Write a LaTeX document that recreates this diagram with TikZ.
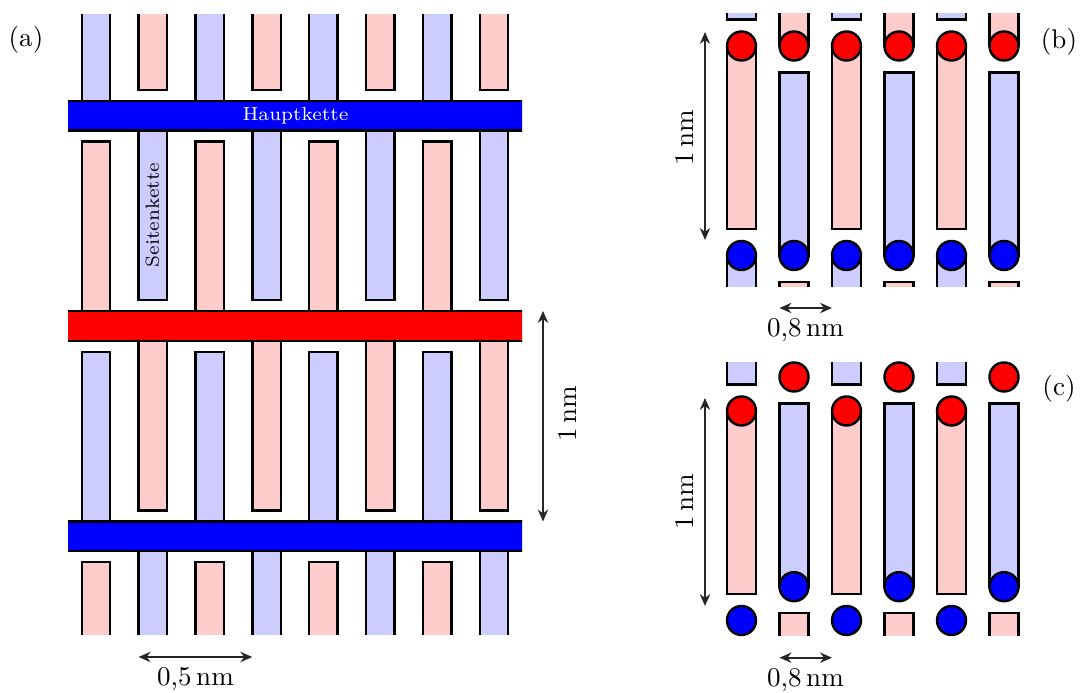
\documentclass[tikz,border=0pt]{standalone}
\usetikzlibrary{arrows.meta}
\definecolor{lblue}{RGB}{204,204,255}
\definecolor{lred}{RGB}{255,204,204}
\definecolor{arr}{RGB}{38,38,38}
\begin{document}
\begin{tikzpicture}[x=0.013cm,y=-0.013cm,
  outl/.style={draw=black,line width=0.9pt},
  dim/.style={draw=arr,line width=0.75pt,{Stealth[length=4.4pt,width=3.8pt]}-{Stealth[length=4.4pt,width=3.8pt]}},
  lab/.style={inner sep=0pt},
]
\useasboundingbox (0,0) rectangle (1080,693);

% ---------------- panel (a)
\begin{scope}
\clip (68,14.5) rectangle (522,635);
\foreach \i in {0,1,2,3}{
  \foreach \k in {0,...,7}{
    \pgfmathsetmacro{\B}{101+210.25*(\i-1)+29.5}
    \pgfmathsetmacro{\T}{101+210.25*\i}
    \pgfmathsetmacro{\cx}{96+56.86*\k}
    \pgfmathtruncatemacro{\p}{mod(\i+\k,2)}
    \pgfmathtruncatemacro{\ke}{mod(\k,2)}
    \ifnum\p=0 \def\col{lblue}\else\def\col{lred}\fi
    \ifnum\ke=0
      \pgfmathsetmacro{\ya}{\B+11}\pgfmathsetmacro{\yb}{\T}
    \else
      \pgfmathsetmacro{\ya}{\B}\pgfmathsetmacro{\yb}{\T-11}
    \fi
    \filldraw[outl,fill=\col] (\cx-14.25,\ya) rectangle (\cx+14.25,\yb);
  }
}
\foreach \j/\c in {1/blue,2/red,3/blue}{
  \pgfmathsetmacro{\T}{101+210.25*(\j-1)}
  \filldraw[outl,fill=\c] (40,\T) rectangle (560,\T+29.5);
}
\node[lab,text=white,font=\scriptsize] (haupt) at (295.5,116) {Hauptkette};
\node[lab,rotate=90,font=\scriptsize] (seite) at (152.5,215) {Seitenkette};
\end{scope}

\node[lab] (la) at (26,40) {(a)};
\coordinate (a1) at (543,311);
\coordinate (a2) at (543,521.5);
\draw[dim] (a1) -- (a2);
\node[lab,rotate=90] (a1nm) at (567,414) {1\,nm};
\coordinate (a3) at (138.6,657);
\coordinate (a4) at (252.3,657);
\draw[dim] (a3) -- (a4);
\node[lab] (a05) at (195.5,679) {0,5\,nm};

% ---------------- panel (b)
\begin{scope}
\clip (700,14) rectangle (1030,287);
\foreach \k in {0,...,5}{
  \pgfmathsetmacro{\cx}{741.5+52.5*\k}
  \pgfmathtruncatemacro{\ke}{mod(\k,2)}
  \foreach \j in {-1,0,1,2}{
    \pgfmathsetmacro{\cy}{46+209.5*\j}
    \pgfmathtruncatemacro{\pj}{mod(\j+2,2)}
    \ifnum\pj=0 \def\cl{lred}\def\cd{red}\else\def\cl{lblue}\def\cd{blue}\fi
    \ifnum\ke=0
      \filldraw[outl,fill=\cl] (\cx-14.5,\cy) rectangle (\cx+14.5,\cy+183);
    \else
      \filldraw[outl,fill=\cl] (\cx-14.5,\cy-183) rectangle (\cx+14.5,\cy);
    \fi
    \filldraw[outl,fill=\cd] (\cx,\cy) circle[radius=14.5];
  }
}
\end{scope}
\node[lab] (lb) at (1059,42) {(b)};
\coordinate (b1) at (705,32);
\coordinate (b2) at (705,240);
\draw[dim] (b1) -- (b2);
\node[lab,rotate=90] (b1nm) at (684,138) {1\,nm};
\coordinate (b3) at (779.5,308);
\coordinate (b4) at (832,308);
\draw[dim] (b3) -- (b4);
\node[lab] (b08) at (805.5,330) {0,8\,nm};

% ---------------- panel (c)
\begin{scope}
\clip (700,363) rectangle (1030,635.5);
\foreach \k in {0,2,4}{
  \pgfmathsetmacro{\cx}{741.5+52.5*\k}
  \filldraw[outl,fill=lblue] (\cx-14.5,201.5) rectangle (\cx+14.5,384.5);
  \filldraw[outl,fill=lred] (\cx-14.5,411) rectangle (\cx+14.5,594);
}
\foreach \k in {1,3,5}{
  \pgfmathsetmacro{\cx}{741.5+52.5*\k}
  \filldraw[outl,fill=lblue] (\cx-14.5,403.7) rectangle (\cx+14.5,586.7);
  \filldraw[outl,fill=lred] (\cx-14.5,613) rectangle (\cx+14.5,796);
}
\end{scope}
\foreach \k in {0,2,4}{
  \pgfmathsetmacro{\cx}{741.5+52.5*\k}
  \filldraw[outl,fill=red] (\cx,411) circle[radius=14.5];
  \filldraw[outl,fill=blue] (\cx,620.5) circle[radius=14.5];
}
\foreach \k in {1,3,5}{
  \pgfmathsetmacro{\cx}{741.5+52.5*\k}
  \filldraw[outl,fill=red] (\cx,377) circle[radius=14.5];
  \filldraw[outl,fill=blue] (\cx,586.7) circle[radius=14.5];
}
\node[lab] (lc) at (1059,389) {(c)};
\coordinate (c1) at (705,398);
\coordinate (c2) at (705,606);
\draw[dim] (c1) -- (c2);
\node[lab,rotate=90] (c1nm) at (684,502) {1\,nm};
\coordinate (c3) at (779.5,657.7);
\coordinate (c4) at (832,657.7);
\draw[dim] (c3) -- (c4);
\node[lab] (c08) at (805.5,680) {0,8\,nm};
\end{tikzpicture}
\end{document}
